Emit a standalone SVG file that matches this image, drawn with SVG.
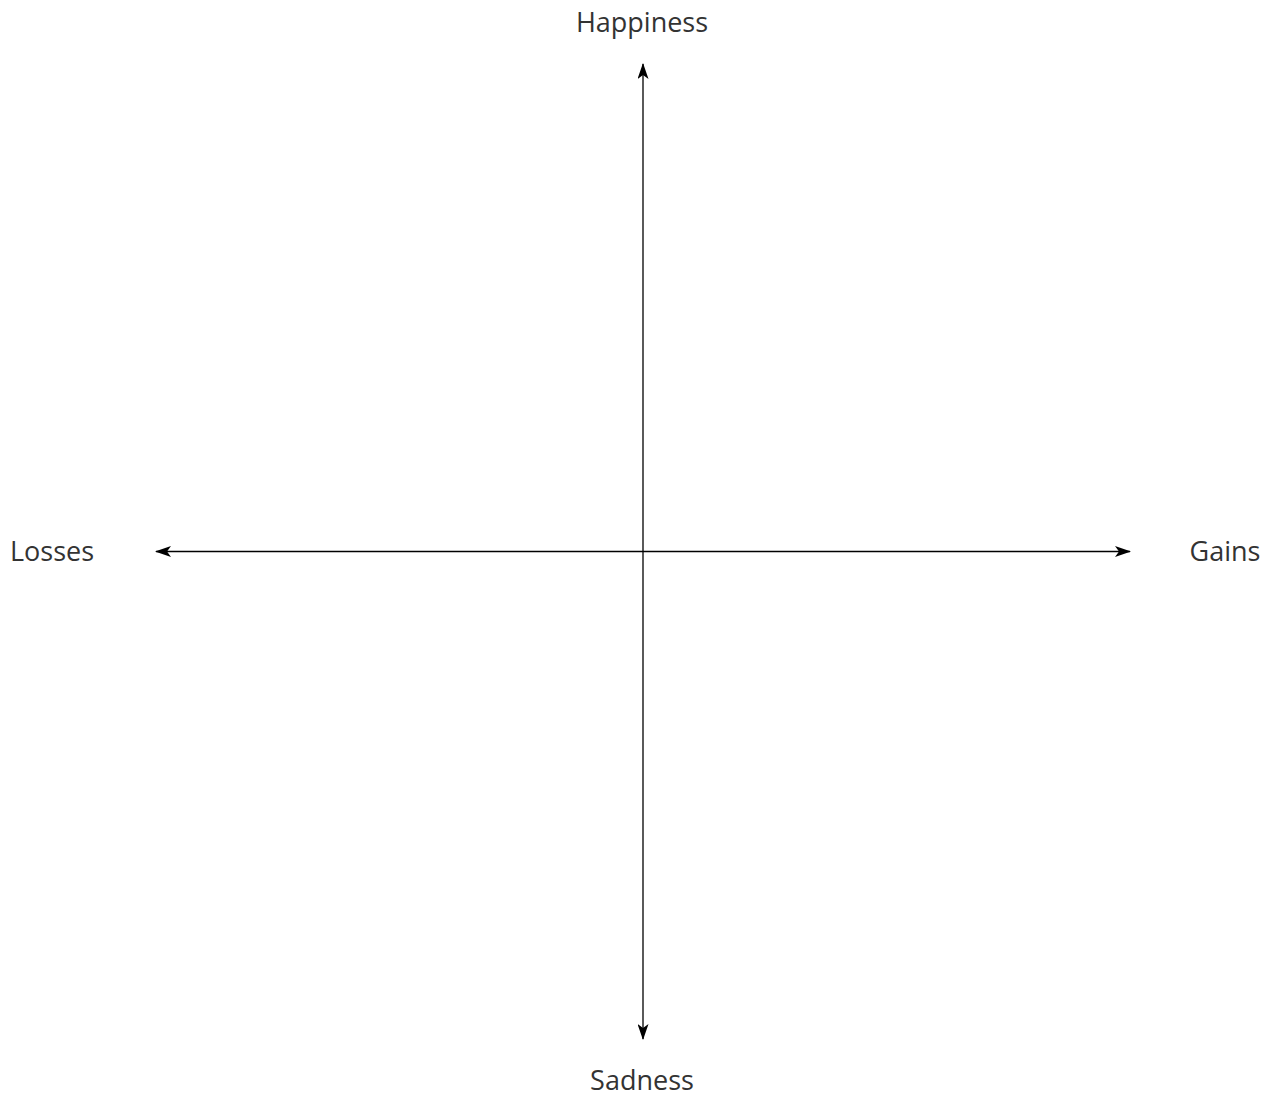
<svg xmlns="http://www.w3.org/2000/svg" width="1272" height="1096" viewBox="0 0 1272 1096">
<style>
.lbl{font-family:"Open Sans","Noto Sans",sans-serif;font-size:27px;fill:#333333}
.ax{stroke:#000;stroke-width:1.3;fill:none}
</style>
<defs>
<marker id="ah" viewBox="0 0 16 11" refX="15" refY="5.5" markerWidth="16" markerHeight="11" markerUnits="userSpaceOnUse" orient="auto"><path d="M0,0 L16,5.5 L0,11 L4,5.5 Z" fill="#000"/></marker>
</defs>
<rect width="1272" height="1096" fill="#fff"/>
<g id="connectors">
<line class="ax" x1="643" y1="551.5" x2="643" y2="64" marker-end="url(#ah)"/>
<line class="ax" x1="643" y1="551.5" x2="643" y2="1039" marker-end="url(#ah)"/>
<line class="ax" x1="643" y1="551.5" x2="156" y2="551.5" marker-end="url(#ah)"/>
<line class="ax" x1="643" y1="551.5" x2="1130" y2="551.5" marker-end="url(#ah)"/>
</g>
<g id="happiness"><text class="lbl" x="642" y="31.5" text-anchor="middle">Happiness</text></g>
<g id="sadness"><text class="lbl" x="642" y="1090" text-anchor="middle">Sadness</text></g>
<g id="losses"><text class="lbl" x="52" y="561" text-anchor="middle">Losses</text></g>
<g id="gains"><text class="lbl" x="1225" y="561" text-anchor="middle">Gains</text></g>
</svg>
